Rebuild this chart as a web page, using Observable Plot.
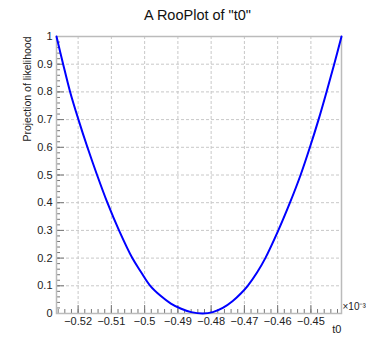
<!DOCTYPE html>
<html><head><meta charset="utf-8">
<script src="https://cdn.jsdelivr.net/npm/d3@7"></script>
<script src="https://cdn.jsdelivr.net/npm/@observablehq/plot@0.6"></script>
<style>
body{margin:0;background:#fff;font-family:"Liberation Sans",Arial,sans-serif;}
#title{height:26px;line-height:30px;font-size:14.5px;text-align:center;width:337px;padding-left:29px;color:#111;}
</style>
</head><body>
<div id="title"></div>
<div id="chart"></div>
<script>
const titleText = 'A RooPlot of "t0"';
const yLabel = "Projection of likelihood";
const xLabel = "t0";
const xExponent = "×10⁻³";
const t0 = [-0.5265, -0.5245, -0.5224, -0.5199, -0.5172, -0.5143, -0.5112, -0.5077, -0.5037, -0.5011, -0.4983, -0.4952, -0.4921, -0.4890, -0.4860, -0.4825, -0.4795, -0.4765, -0.4735, -0.4710, -0.4690, -0.4662, -0.4637, -0.4598, -0.4563, -0.4531, -0.4503, -0.4477, -0.4453, -0.4430, -0.4408];
const nll = [1.0, 0.9, 0.8, 0.7, 0.6, 0.5, 0.4, 0.3, 0.2, 0.15, 0.1, 0.064, 0.036, 0.017, 0.005, 0.0, 0.005, 0.020, 0.045, 0.073, 0.1, 0.148, 0.2, 0.3, 0.4, 0.5, 0.6, 0.7, 0.8, 0.9, 1.0];
const xTicks = [-0.52, -0.51, -0.5, -0.49, -0.48, -0.47, -0.46, -0.45];
const yTicks = [0, 0.1, 0.2, 0.3, 0.4, 0.5, 0.6, 0.7, 0.8, 0.9, 1];

document.getElementById("title").textContent = titleText;

const W = 366, H = 311, mL = 56, mR = 25, mT = 10, mB = 24;
const fw = W - mL - mR, fh = H - mT - mB;
const xDomain = [-0.5265, -0.4408];
const xMinor = d3.range(-0.526, -0.4405, 0.002).map(d => +d.toFixed(3));
const yMinor = d3.range(0, 1.001, 0.02).map(d => +d.toFixed(2));
const fmt = d => String(+d.toFixed(3)).replace("-", "\u2212");
const data = t0.map((t, i) => ({t, v: nll[i]}));

const chart = Plot.plot({
  width: W, height: H, marginLeft: mL, marginRight: mR, marginTop: mT, marginBottom: mB,
  style: {fontFamily: '"Liberation Sans", Arial, sans-serif', fontSize: "11px", color: "#222", background: "white"},
  x: {domain: xDomain},
  y: {domain: [0, 1]},
  marks: [
    Plot.ruleX(xTicks, {stroke: "#c8c8c8", strokeDasharray: "3,2"}),
    Plot.ruleY(yTicks.filter(d => d > 0 && d < 1), {stroke: "#c8c8c8", strokeDasharray: "3,2"}),
    Plot.ruleX(xMinor, {insetTop: fh - 4, stroke: "#777"}),
    Plot.ruleX(xTicks, {insetTop: fh - 8, stroke: "#777"}),
    Plot.ruleY(yMinor, {insetRight: fw - 4, stroke: "#777"}),
    Plot.ruleY(yTicks, {insetRight: fw - 8, stroke: "#777"}),
    Plot.frame({stroke: "#bbb", strokeWidth: 1.5}),
    Plot.axisX(xTicks, {tickSize: 0, tickPadding: 4, tickFormat: fmt, label: null}),
    Plot.axisY(yTicks, {tickSize: 0, tickPadding: 4, tickFormat: fmt, label: null}),
    Plot.line(data, {x: "t", y: "v", stroke: "#0000ff", strokeWidth: 2, curve: "catmull-rom"}),
    Plot.text([yLabel], {text: d => d, frameAnchor: "top-left", dx: -33, rotate: -90, textAnchor: "end", fontSize: 10.5}),
    Plot.text([xLabel], {text: d => d, frameAnchor: "bottom-right", dy: 19, textAnchor: "end"}),
    Plot.text([xExponent], {text: d => d, frameAnchor: "bottom-right", dx: 1, dy: -4, textAnchor: "start", fontSize: 10})
  ]
});
document.getElementById("chart").appendChild(chart);
</script>
</body></html>
